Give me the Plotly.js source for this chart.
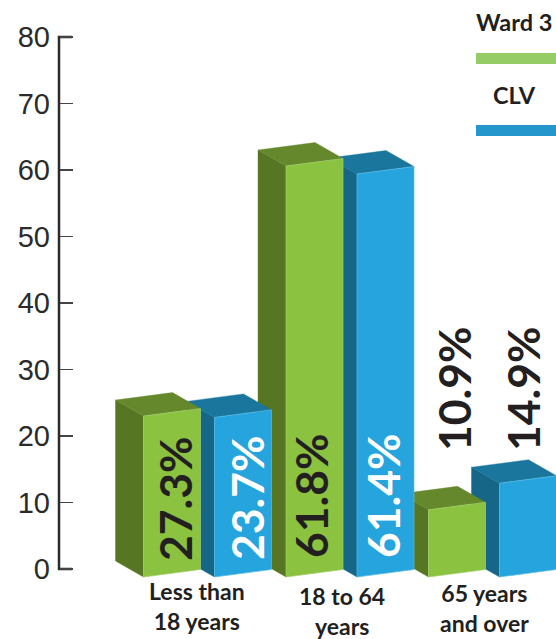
<!DOCTYPE html>
<html>
<head>
<meta charset="utf-8">
<script src="https://cdn.plot.ly/plotly-3.0.1.min.js"></script>
<style>html,body{margin:0;padding:0;background:#fff;overflow:hidden}#chart{width:556px;height:639px}</style>
</head>
<body>
<div id="chart"></div>
<script>
// ---- data ----
var categories = ['Less than<br>18 years', '18 to 64<br>years', '65 years<br>and over'];
var seriesNames = ['Ward 3', 'CLV'];
var ward3Heights = [24.2, 61.8, 10.1];
var clvHeights = [24.0, 60.6, 14.1];
var ward3Labels = ['27.3%', '61.8%', '10.9%'];
var clvLabels = ['23.7%', '61.4%', '14.9%'];
var yTicks = [0, 10, 20, 30, 40, 50, 60, 70, 80];

// ---- styling / geometry ----
var W = 556, H = 639, zeroPx = 569, unitPx = 6.65;
function py(p) { return (zeroPx - p) / unitPx; }
var axisX = 59, tickLen = 13;
var firstX = 143.5, groupStep = 142.5, seriesStep = 71, barW = 57;
var depthX = 28, depthPx = 16, shearPx = 7.5, basePx = 8;
var palette = [
  {front: '#8bc23f', side: '#567623', top: '#65882d', edge: '#a3cf6b', legend: '#96cc66'},
  {front: '#25a4dd', side: '#156687', top: '#1a769d', edge: '#5cbce6', legend: '#2596cb'}
];
var textDark = '#231f20';

var heights = [ward3Heights, clvHeights];
var traces = [];
function face(x, y, color, line, name) {
  traces.push({
    type: 'scatter', mode: 'lines', x: x, y: y, fill: 'toself', fillcolor: color,
    line: {color: line || color, width: line ? 0.7 : 0.4}, hoverinfo: 'skip', showlegend: false, name: name
  });
}
// painted right to left so nearer faces overlap as in the picture
for (var g = categories.length - 1; g >= 0; g--) {
  for (var s = seriesNames.length - 1; s >= 0; s--) {
    var v = heights[s][g], c = palette[s], n = seriesNames[s];
    var xl = firstX + g * groupStep + s * seriesStep, xr = xl + barW, xb = xl - depthX;
    var yb = -basePx / unitPx, yt = yb + v;
    var sh = shearPx / unitPx, dp = depthPx / unitPx;
    face([xb, xl, xl, xb, xb], [yb + dp, yb, yt, yt + dp, yb + dp], c.side, null, n);
    face([xb, xl, xr, xr - depthX, xb], [yt + dp, yt, yt + sh, yt + sh + dp, yt + dp], c.top, null, n);
    face([xl, xr, xr, xl, xl], [yb, yb + sh, yt + sh, yt, yb], c.front, c.edge, n);
  }
}
// axis spine with its end caps
traces.push({
  type: 'scatter', mode: 'lines', x: [axisX + tickLen, axisX, axisX, axisX + tickLen],
  y: [yTicks[yTicks.length - 1], yTicks[yTicks.length - 1], yTicks[0], yTicks[0]],
  line: {color: '#2b2b2b', width: 2.5}, hoverinfo: 'skip', showlegend: false
});

var annotations = [];
function note(text, x, y, size, color, weight, angle) {
  annotations.push({
    text: text, x: x, y: y, xref: 'x', yref: 'y', showarrow: false, xanchor: 'center', yanchor: 'middle',
    textangle: angle || 0, font: {family: 'Lato', size: size, color: color, weight: weight}
  });
}
var catCenters = [196.5, 342, 484], catYs = [606, 611, 608];
categories.forEach(function (t, i) { note(t, catCenters[i], py(catYs[i]), 23, textDark, 700); });

var labelX = [[174, 310, 453], [246, 382, 522]];
var labelY = [[499, 496, 389], [498, 496, 389]];
var labelColor = [[textDark, textDark, textDark], ['#ffffff', '#ffffff', textDark]];
[ward3Labels, clvLabels].forEach(function (arr, s) {
  arr.forEach(function (t, g) { note(t, labelX[s][g], py(labelY[s][g]), 44.5, labelColor[s][g], 700, -90); });
});

note(seriesNames[0], 514, py(22), 23.5, textDark, 700);
note(seriesNames[1], 514, py(95), 23.5, textDark, 700);

var shapes = [[53, 64, 0], [125, 136, 1]].map(function (r) {
  return {type: 'rect', xref: 'x', yref: 'y', x0: 476, x1: W, y0: py(r[0]), y1: py(r[1]),
          fillcolor: palette[r[2]].legend, line: {width: 0}};
});

var layout = {
  width: W, height: H, margin: {l: 0, r: 0, t: 0, b: 0},
  paper_bgcolor: '#ffffff', plot_bgcolor: '#ffffff', showlegend: false,
  xaxis: {range: [0, W], visible: false, fixedrange: true},
  yaxis: {
    range: [py(H), py(0)], anchor: 'free', position: axisX / W, showline: false, showgrid: false, zeroline: false,
    tickmode: 'array', tickvals: yTicks, ticktext: yTicks.map(String), ticks: 'inside', ticklen: tickLen, tickwidth: 1.5,
    tickcolor: '#444444', ticklabelstandoff: 9, tickfont: {family: 'Liberation Sans', size: 29, color: '#2b2b2b'}, fixedrange: true
  },
  shapes: shapes, annotations: annotations
};
Plotly.newPlot('chart', traces, layout, {displayModeBar: false, staticPlot: true});
</script>
</body>
</html>
